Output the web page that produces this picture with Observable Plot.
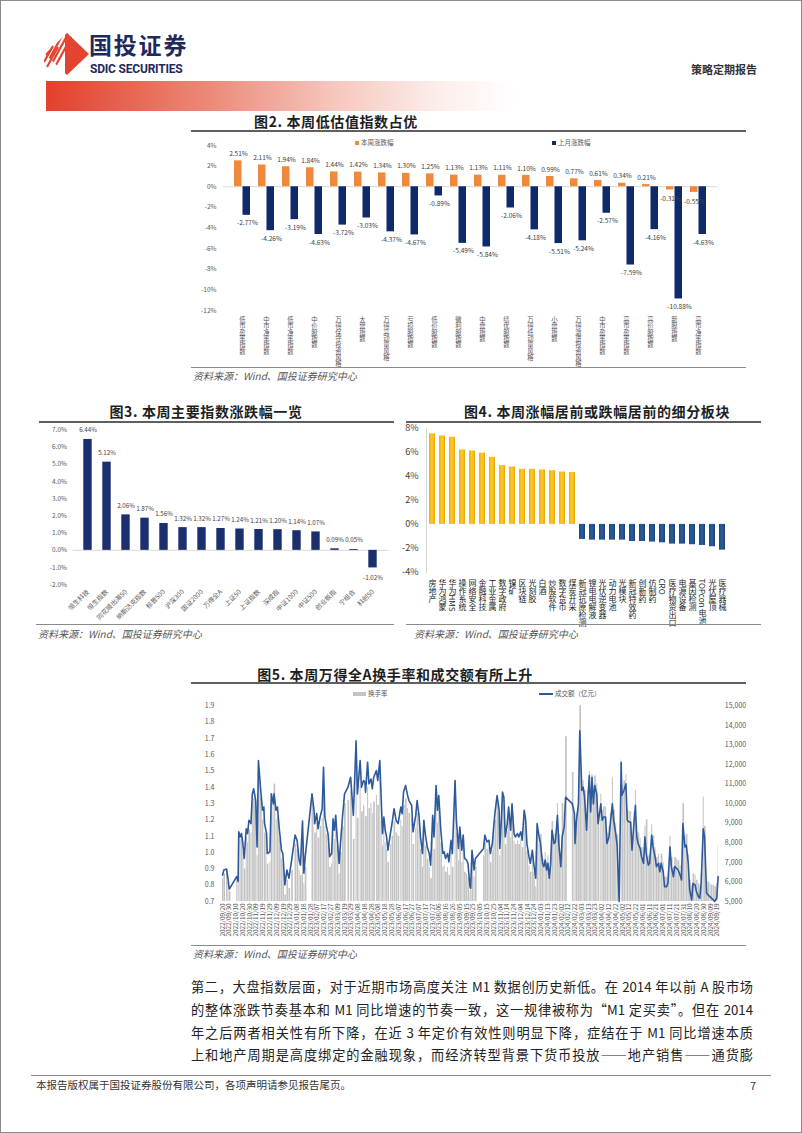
<!DOCTYPE html>
<html lang="zh">
<head>
<meta charset="utf-8">
<script src="https://cdn.jsdelivr.net/npm/d3@7"></script>
<script src="https://cdn.jsdelivr.net/npm/@observablehq/plot@0.6"></script>
<style>
html,body{margin:0;padding:0;background:#fff;}
#page{position:relative;width:802px;height:1133px;overflow:hidden;background:#fff;box-sizing:border-box;border:1px solid #8c8c8c;font-family:"Noto Sans CJK SC","Noto Sans",sans-serif;color:#222;}
#page > *{position:absolute;}
.t{font-weight:700;font-size:14px;line-height:20px;white-space:nowrap;transform:translateX(-50%);color:#1e1e1e;letter-spacing:0.6px;}
.hr{height:0;border-top:2px solid #5f5f5f;}
.srcl{height:0;border-top:1.5px solid #8a8a8a;}
.src{font-size:10px;line-height:14px;font-style:italic;color:#555;white-space:nowrap;}
.lg{font-size:6.5px;line-height:8px;color:#595959;white-space:nowrap;}
.sw{display:inline-block;vertical-align:middle;margin-right:2px;}
.body{font-size:13.2px;line-height:20px;width:562px;text-align:justify;text-align-last:justify;white-space:nowrap;color:#222;}
</style>
</head>
<body>
<div id="page">
  <svg style="left:43px;top:31px" width="46" height="44" viewBox="0 0 46 44">
    <defs><clipPath id="dm"><polygon points="23,1 45,22 23,43 1,22"/></clipPath></defs>
    <g clip-path="url(#dm)">
      <polygon points="21,0 46,0 46,44 21,44" fill="#e2442f"/>
      <g stroke="#e2442f" stroke-width="2.2">
        <line x1="-14" y1="44" x2="10" y2="0"/><line x1="-9" y1="44" x2="15" y2="0"/>
        <line x1="-4" y1="44" x2="20" y2="0"/><line x1="1" y1="44" x2="25" y2="0"/>
        <line x1="6" y1="44" x2="30" y2="0"/>
      </g>
    </g>
    <g stroke="#e2442f" stroke-width="2.2">
      <line x1="0" y1="30" x2="9" y2="14"/><line x1="3" y1="35" x2="14" y2="15"/>
    </g>
  </svg>
  <div style="left:88px;top:31px;font-size:23px;font-weight:700;color:#1f2a5a;letter-spacing:1.8px;line-height:25px;">国投证券</div>
  <div style="left:89px;top:63px;font-size:12px;font-weight:700;color:#1f2a5a;line-height:11px;font-family:'Liberation Sans Narrow','Roboto',sans-serif;letter-spacing:-0.2px;">SDIC SECURITIES</div>
  <div style="left:690px;top:61px;font-size:11px;color:#333;font-weight:700;line-height:14px;">策略定期报告</div>
  <div style="left:45px;top:80px;width:470px;height:30px;background:linear-gradient(to right,#e3402b 0%,#ec8a79 35%,#f6c8bf 62%,#fdf0ed 85%,rgba(255,255,255,0) 100%);"></div>

  <!-- Figure 2 -->
  <div class="t" style="left:335px;top:110px;">图2. 本周低估值指数占优</div>
  <div class="hr" style="left:190px;top:129px;width:555px;"></div>
  <div class="lg" style="left:354px;top:137px;"><span class="sw" style="width:4px;height:4px;background:#ef8a3d"></span>本周涨跌幅</div>
  <div class="lg" style="left:551px;top:137px;"><span class="sw" style="width:4px;height:4px;background:#0f2a6b"></span>上月涨跌幅</div>
  <div id="fig2" style="left:190px;top:133px;"></div>
  <div class="srcl" style="left:190px;top:366px;width:555px;"></div>
  <div class="src" style="left:192px;top:368px;">资料来源：Wind、国投证券研究中心</div>

  <!-- Figure 3 -->
  <div class="t" style="left:205px;top:400px;">图3. 本周主要指数涨跌幅一览</div>
  <div class="hr" style="left:38px;top:420px;width:355px;"></div>
  <div id="fig3" style="left:35px;top:420px;"></div>
  <div class="srcl" style="left:35px;top:623px;width:358px;"></div>
  <div class="src" style="left:37px;top:626px;">资料来源：Wind、国投证券研究中心</div>

  <!-- Figure 4 -->
  <div class="t" style="left:596px;top:400px;">图4. 本周涨幅居前或跌幅居前的细分板块</div>
  <div class="hr" style="left:405px;top:420px;width:355px;"></div>
  <div id="fig4" style="left:405px;top:420px;"></div>
  <div class="srcl" style="left:405px;top:623px;width:355px;"></div>
  <div class="src" style="left:413px;top:626px;">资料来源：Wind、国投证券研究中心</div>

  <!-- Figure 5 -->
  <div class="t" style="left:394px;top:663px;">图5. 本周万得全A换手率和成交额有所上升</div>
  <div class="hr" style="left:190px;top:681px;width:555px;"></div>
  <div class="lg" style="left:352px;top:688px;"><span class="sw" style="width:13px;height:4px;background:#c3c3c3"></span>换手率</div>
  <div class="lg" style="left:538px;top:688px;"><span class="sw" style="width:14px;height:1.6px;background:#2e5a9c"></span>成交额（亿元）</div>
  <div id="fig5" style="left:190px;top:698px;"></div>
  <div class="srcl" style="left:190px;top:944px;width:555px;"></div>
  <div class="src" style="left:192px;top:946px;">资料来源：Wind、国投证券研究中心</div>

  <!-- Body text -->
  <div class="body" style="left:190px;top:976px;">第二，大盘指数层面，对于近期市场高度关注 M1 数据创历史新低。在 2014 年以前 A 股市场</div>
  <div class="body" style="left:190px;top:999px;">的整体涨跌节奏基本和 M1 同比增速的节奏一致，这一规律被称为“M1 定买卖”。但在 2014</div>
  <div class="body" style="left:190px;top:1022px;">年之后两者相关性有所下降，在近 3 年定价有效性则明显下降，症结在于 M1 同比增速本质</div>
  <div class="body" style="left:190px;top:1044px;">上和地产周期是高度绑定的金融现象，而经济转型背景下货币投放——地产销售——通货膨</div>

  <div class="srcl" style="left:30px;top:1074px;width:740px;"></div>
  <div style="left:35px;top:1077px;font-size:10.5px;line-height:14px;color:#333;">本报告版权属于国投证券股份有限公司，各项声明请参见报告尾页。</div>
  <div style="left:749px;top:1077px;font-size:11px;line-height:14px;color:#333;">7</div>
</div>

<script>
const FONT = '"Noto Sans CJK SC","Noto Sans",sans-serif';
const ORANGE = "#ef8a3d", NAVY2 = "#0f2a6b", NAVY3 = "#1b2f6e", BLUE5 = "#2e5a9c", GRAY5 = "#c3c3c3";

// ---------- Figure 2 data ----------
const fig2Cats = ["低市盈率指数","中市净率指数","低市净率指数","中价股指数","万得保守投资风格","大盘指数","万得高动量风格","亏损股指数","低价股指数","微利股指数","中盘指数","绩优股指数","万得低动量风格","小盘指数","万得激进投资风格","中市盈率指数","高市盈率指数","高价股指数","新股指数","高市净率指数"];
const fig2Week  = [2.51,2.11,1.94,1.84,1.44,1.42,1.34,1.30,1.25,1.13,1.13,1.11,1.10,0.99,0.77,0.61,0.34,0.21,-0.31,-0.55];
const fig2Month = [-2.77,-4.26,-3.19,-4.63,-3.72,-3.03,-4.37,-4.67,-0.89,-5.49,-5.84,-2.06,-4.18,-5.51,-5.24,-2.57,-7.59,-4.16,-10.88,-4.63];
const fig2Ticks = [4,2,0,-2,-4,-6,-8,-10,-12];

// ---------- Figure 3 data ----------
const fig3Cats = ["恒生科技","恒生指数","同花顺出海50","纳斯达克指数","标普500","沪深300","国证2000","万得全A","上证50","上证指数","深成指","中证1000","中证500","创业板指","宁组合","科创50"];
const fig3Values = [6.44,5.12,2.06,1.87,1.56,1.32,1.32,1.27,1.24,1.21,1.20,1.14,1.07,0.09,0.05,-1.02];
const fig3Ticks = [7,6,5,4,3,2,1,0,-1,-2];

// ---------- Figure 4 data ----------
const fig4Cats = ["房地产","华为鸿蒙","华为HMS","操作系统","网络安全","金融科技","工业金属","数字政府","镍矿","区块链","光刻胶","白酒","炒股软件","数字货币","煤炭开采","新冠抗原检测","锂电电解液","光伏逆变器","动力电池","光模块","新冠特效药","创新药","仿制药","CRO","医疗物资出口","电源设备","基因检测","TOPcon 电池","光伏屋顶","医疗器械"];
const fig4Values = [7.53,7.36,7.25,6.19,6.11,5.92,5.58,4.89,4.78,4.58,4.58,4.53,4.47,4.36,4.31,-1.25,-1.31,-1.31,-1.31,-1.31,-1.42,-1.42,-1.47,-1.53,-1.64,-1.64,-1.69,-1.75,-1.86,-2.14];
const fig4Ticks = [8,6,4,2,0,-2,-4];

// ---------- Figure 5 data (days since 2022-09-20) ----------
const fig5StartDate = "2022-09-20";
const fig5Days = [
0,2,6,8,10,21,23,24,26,28,30,32,35,37,39,42,44,46,49,51,53,56,59,61,62,65,66,70,72,75,
76,79,81,84,87,89,92,95,98,102,107,110,113,115,118,120,122,132,135,136,139,141,144,147,149,151,153,156,158,161,
163,165,167,169,172,174,177,180,
185,189,193,197,199,203,205,208,210,211,214,216,219,221,223,227,229,232,234,236,238,240,242,244,248,250,253,256,259,263,
265,267,270,273,275,279,281,285,287,290,292,295,297,299,302,305,307,310,312,315,317,319,322,325,327,329,332,334,337,339,
343,345,348,350,353,355,357,360,362,365,
366,368,371,373,385,387,390,393,395,398,400,402,405,408,409,411,413,415,417,420,422,425,427,430,432,435,437,440,442,445,
447,449,452,454,457,459,462,464,467,469,472,474,476,478,480,482,484,486,489,491,494,496,499,501,504,506,516,519,520,522,
525,527,530,532,534,537,539,541,543,545,
547,549,552,554,558,560,562,565,567,570,572,575,577,580,582,585,588,589,592,595,597,600,602,604,607,609,611,613,616,618,
621,623,625,628,630,633,635,638,640,643,645,647,650,652,655,657,660,662,665,667,670,672,675,677,679,682,684,687,689,692,
694,697,699,702,704,706,709,711,714,716,719,721,724,726,729,731];
const fig5Volume = [
6350,6610,6660,6190,5630,6270,6020,8560,8300,8470,7960,7200,8720,8470,9150,8980,10500,10760,10160,7790,12200,10840,9660,9830,8980,8470,7450,7540,10500,9990,
10500,9660,9830,8640,7620,7450,5850,6610,6190,7120,8390,8130,7120,6860,9110,6440,7290,10500,9660,8980,9490,8720,9320,9740,11860,9320,8890,8390,7290,7450,
9230,8640,9400,8300,6950,7960,9320,10500,
10840,11350,9400,13210,10500,12200,10840,11180,11100,10590,12110,11010,11260,10760,11350,11690,11180,12200,10330,8470,9320,8640,8300,7620,8560,8980,9740,9150,8980,9830,
9490,10590,10930,10420,10160,9910,8560,9400,10160,9320,8300,7450,9150,8470,7790,7450,6860,9400,8300,10930,9660,10420,8640,7450,7540,7200,7450,7030,8130,7450,
11180,9150,7710,8810,7620,8390,7200,7120,6950,5760,
5680,7620,6610,7200,7710,8390,8050,8130,7450,7960,8810,9570,10420,9660,7710,8980,10590,10330,8300,8980,9830,8640,9990,8470,8300,8470,8300,8560,8130,9660,
9230,7960,7290,6950,7620,6950,6190,8980,8300,7960,6950,6780,7120,6610,6950,6190,6950,8640,7960,8050,9400,7960,6780,8300,8810,10330,9990,9490,7960,9150,
9990,13720,10670,10840,10330,8640,10330,11430,9570,11350,
9990,10930,10500,8980,9990,9150,9320,9320,7960,8300,8980,9990,9150,8470,7880,5000,12110,10420,10670,11010,9150,9060,9060,7620,9060,9910,8300,7960,7710,7290,
6950,8300,7450,6860,6950,8390,7790,7290,6780,6950,6520,6950,6520,5760,5760,5930,7790,6780,6270,6780,6690,6610,6350,6100,8980,7790,7880,6950,5590,5080,
5930,5850,5510,5250,5170,5930,8720,8300,5420,5340,5250,5170,5080,5000,5170,6270];
const fig5Turnover = [
0.84,0.87,0.88,0.82,0.76,0.83,0.80,1.11,1.08,1.10,1.00,0.90,1.09,1.06,1.14,1.12,1.30,1.33,1.26,0.98,1.50,1.34,1.20,1.22,1.12,1.06,0.93,0.94,1.30,1.24,
1.42,1.20,1.22,1.08,0.96,0.93,0.74,0.83,0.78,0.89,1.05,1.02,0.89,0.86,1.13,0.81,0.91,1.30,1.20,1.12,1.18,1.09,1.16,1.21,1.46,1.16,1.11,1.05,0.91,0.93,
1.15,1.08,1.17,1.04,0.87,1.00,1.16,1.30,
1.32,1.38,1.08,1.54,1.21,1.41,1.25,1.29,1.28,1.22,1.40,1.27,1.30,1.24,1.31,1.35,1.29,1.56,1.19,1.04,1.14,1.06,1.02,0.94,1.05,1.10,1.19,1.12,1.10,1.20,
1.16,1.29,1.33,1.27,1.24,1.21,1.05,1.15,1.24,1.14,1.02,0.91,1.12,1.04,0.96,0.91,0.84,1.15,1.02,1.36,1.18,1.27,1.06,0.91,0.92,0.88,0.91,0.86,1.00,0.91,
1.44,1.12,0.95,1.08,0.94,1.03,0.88,0.87,0.85,0.76,
0.77,0.98,0.85,0.91,0.98,1.06,1.02,1.03,0.94,1.01,1.11,1.20,1.30,1.21,0.98,1.13,1.32,1.29,1.05,1.13,1.23,1.09,1.25,1.07,1.05,1.07,1.05,1.08,1.03,1.21,
1.16,1.01,0.92,0.88,0.97,0.88,0.79,1.13,1.05,1.11,0.98,0.96,1.00,0.94,0.98,0.89,0.98,1.19,1.11,1.12,1.30,1.11,0.96,1.30,1.25,1.71,1.49,1.28,1.10,1.24,
1.34,1.90,1.42,1.44,1.38,1.18,1.38,1.50,1.27,1.48,
1.36,1.47,1.42,1.24,1.36,1.26,1.28,1.28,1.12,1.16,1.24,1.46,1.26,1.18,1.11,null,1.58,1.41,1.44,1.48,1.26,1.25,1.25,1.08,1.25,1.38,1.16,1.12,1.09,1.03,
0.99,1.16,1.20,0.98,0.99,1.17,1.10,1.03,0.97,0.99,0.94,0.99,0.94,0.85,0.85,0.87,1.10,0.97,0.91,0.97,0.96,0.95,0.92,0.89,1.30,1.10,1.11,0.99,0.83,0.80,
0.87,0.86,0.83,0.81,0.80,0.87,1.34,1.16,0.83,0.82,0.81,0.80,0.80,0.79,0.81,1.05];
const fig5LeftTicks = [0.7,0.8,0.9,1.0,1.1,1.2,1.3,1.4,1.5,1.6,1.7,1.8,1.9];
const fig5RightTicks = [5000,6000,7000,8000,9000,10000,11000,12000,13000,14000,15000];
const fig5TickStepDays = 10;

// vertical (upright CJK) category labels: last text mark of the svg
function verticalize(svg) {
  const groups = svg.querySelectorAll('g[aria-label="text"]');
  const g = groups[groups.length - 1];
  g.querySelectorAll("text").forEach(t => {
    t.setAttribute("writing-mode", "vertical-rl");
    t.style.writingMode = "vertical-rl";
    t.removeAttribute("dy");
  });
}

// ---------- Figure 2 ----------
{
  const rows = fig2Cats.map((c, i) => ({cat: c, week: fig2Week[i], month: fig2Month[i]}));
  const pct = v => v.toFixed(2) + "%";
  const svg = Plot.plot({
    width: 555, height: 235,
    marginLeft: 32, marginRight: 29, marginTop: 11, marginBottom: 59,
    style: {fontFamily: FONT, fontSize: "6.5px", color: "#595959", background: "transparent", overflow: "visible"},
    x: {domain: fig2Cats, padding: 0, axis: null},
    y: {domain: [-12, 4], ticks: fig2Ticks, tickFormat: d => d + "%", tickSize: 0, tickPadding: 7, label: null},
    marks: [
      Plot.ruleY([0], {stroke: "#d9d9d9"}),
      Plot.barY(rows, {x: "cat", y: "week", fill: ORANGE, insetLeft: 4, insetRight: 12.5}),
      Plot.barY(rows, {x: "cat", y: "month", fill: NAVY2, insetLeft: 12.5, insetRight: 4}),
      Plot.text(rows.filter(d => d.week >= 0), {x: "cat", y: "week", text: d => pct(d.week), dx: -4, dy: -7, fill: "#404040", fontSize: 6.5}),
      Plot.text(rows.filter(d => d.week < 0), {x: "cat", y: "week", text: d => pct(d.week), dx: -4, dy: 9, fill: "#404040", fontSize: 6.5}),
      Plot.text(rows, {x: "cat", y: "month", text: d => pct(d.month), dx: 5, dy: 8, fill: "#404040", fontSize: 6.5}),
      Plot.text(rows, {x: "cat", frameAnchor: "bottom", text: "cat", dy: 6, textAnchor: "start", fontSize: 6.3, fill: "#595959"})
    ]
  });
  verticalize(svg);
  document.getElementById("fig2").appendChild(svg);
}

// ---------- Figure 3 ----------
{
  const rows = fig3Cats.map((c, i) => ({cat: c, v: fig3Values[i]}));
  const pct = v => v.toFixed(2) + "%";
  const svg = Plot.plot({
    width: 360, height: 200,
    marginLeft: 36.6, marginRight: 7.6, marginTop: 8.3, marginBottom: 36.7,
    style: {fontFamily: FONT, fontSize: "6.5px", color: "#595959", background: "transparent", overflow: "visible"},
    x: {domain: fig3Cats, padding: 0, tickRotate: -45, tickSize: 0, tickPadding: 6, label: null},
    y: {domain: [-2, 7], ticks: fig3Ticks, tickFormat: d => d.toFixed(1) + "%", tickSize: 0, tickPadding: 6, label: null},
    marks: [
      Plot.ruleY([0], {stroke: "#d9d9d9"}),
      Plot.barY(rows, {x: "cat", y: "v", fill: NAVY3, insetLeft: 5.3, insetRight: 5.3}),
      Plot.text(rows.filter(d => d.v >= 0), {x: "cat", y: "v", text: d => pct(d.v), dy: -9, fill: "#404040", fontSize: 6.2}),
      Plot.text(rows.filter(d => d.v < 0), {x: "cat", y: "v", text: d => pct(d.v), dy: 10, fill: "#404040", fontSize: 6.2})
    ]
  });
  document.getElementById("fig3").appendChild(svg);
}

// ---------- Figure 4 ----------
{
  const rows = fig4Cats.map((c, i) => ({cat: c, v: fig4Values[i]}));
  const svg = Plot.plot({
    width: 360, height: 205,
    marginLeft: 20, marginRight: 38.3, marginTop: 6.7, marginBottom: 54,
    style: {fontFamily: FONT, fontSize: "9px", color: "#404040", background: "transparent", overflow: "visible"},
    x: {domain: fig4Cats, padding: 0, axis: null},
    y: {domain: [-4, 8], ticks: fig4Ticks, tickFormat: d => d + "%", tickSize: 0, tickPadding: 8, label: null},
    marks: [
      Plot.frame({anchor: "left", stroke: "#d6d6d6"}),
      Plot.barY(rows.filter(d => d.v > 0), {x: "cat", y: "v", fill: "url(#gold4)", insetLeft: 2, insetRight: 2}),
      Plot.barY(rows.filter(d => d.v < 0), {x: "cat", y: "v", fill: "url(#blue4)", insetLeft: 2, insetRight: 2}),
      Plot.text(rows, {x: "cat", frameAnchor: "bottom", text: "cat", dy: 6, textAnchor: "start", fontSize: 8, fill: "#222"})
    ]
  });
  const ns = "http://www.w3.org/2000/svg";
  const defs = document.createElementNS(ns, "defs");
  defs.innerHTML =
    '<linearGradient id="gold4" x1="0" x2="1" y1="0" y2="0"><stop offset="0" stop-color="#f0b000"/><stop offset="0.5" stop-color="#ffc935"/><stop offset="1" stop-color="#e9a900"/></linearGradient>' +
    '<linearGradient id="blue4" x1="0" x2="1" y1="0" y2="0"><stop offset="0" stop-color="#1c477f"/><stop offset="0.5" stop-color="#2d5e9e"/><stop offset="1" stop-color="#1a4179"/></linearGradient>';
  svg.insertBefore(defs, svg.firstChild);
  verticalize(svg);
  document.getElementById("fig4").appendChild(svg);
}

// ---------- Figure 5 ----------
{
  const base = new Date(fig5StartDate + "T00:00:00Z").getTime();
  const day = n => new Date(base + n * 864e5);
  const toT = v => fig5LeftTicks[0] + (v - fig5RightTicks[0]) / (fig5RightTicks[fig5RightTicks.length - 1] - fig5RightTicks[0]) * (fig5LeftTicks[fig5LeftTicks.length - 1] - fig5LeftTicks[0]);
  const fromT = t => fig5RightTicks[0] + (t - fig5LeftTicks[0]) / (fig5LeftTicks[fig5LeftTicks.length - 1] - fig5LeftTicks[0]) * (fig5RightTicks[fig5RightTicks.length - 1] - fig5RightTicks[0]);
  const rows = fig5Days.map((d, i) => {
    const next = i + 1 < fig5Days.length ? fig5Days[i + 1] : d + 1;
    return {date: day(d), end: day(Math.min(next, d + 3)), vol: fig5Volume[i], turn: fig5Turnover[i]};
  });
  const lastDay = fig5Days[fig5Days.length - 1];
  const tickDates = d3.range(0, lastDay, fig5TickStepDays).map(day);
  const fmt = d3.utcFormat("%Y/%m/%d");
  const svg = Plot.plot({
    width: 555, height: 242,
    marginLeft: 31, marginRight: 27.7, marginTop: 6.3, marginBottom: 40,
    style: {fontFamily: FONT, fontSize: "7px", color: "#595959", background: "transparent", overflow: "visible"},
    x: {type: "utc", domain: [day(0), day(lastDay + 1)]},
    y: {domain: [fig5LeftTicks[0], fig5LeftTicks[fig5LeftTicks.length - 1]], label: null},
    marks: [
      Plot.rect(rows.filter(d => d.turn != null), {x1: "date", x2: "end", y1: () => fig5LeftTicks[0], y2: "turn", fill: GRAY5, insetRight: 0.35}),
      Plot.line(rows, {x: "date", y: d => toT(d.vol), stroke: BLUE5, strokeWidth: 1.6}),
      Plot.axisY(fig5LeftTicks, {anchor: "left", tickSize: 0, tickPadding: 8, tickFormat: d => d.toFixed(1), label: null}),
      Plot.axisY(fig5RightTicks.map(toT), {anchor: "right", tickSize: 0, tickPadding: 6, tickFormat: t => d3.format(",")(Math.round(fromT(t))), label: null}),
      Plot.axisX(tickDates, {tickFormat: fmt, tickRotate: -90, tickSize: 0, tickPadding: 2, fontSize: 6.3, label: null})
    ]
  });
  document.getElementById("fig5").appendChild(svg);
}
</script>
</body>
</html>
